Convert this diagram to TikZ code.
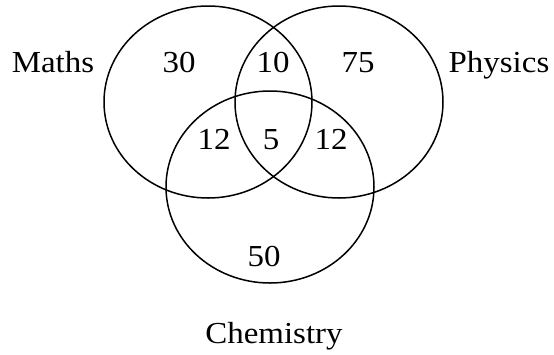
\documentclass[tikz,border=0pt]{standalone}
\usepackage{fontspec}
\setmainfont{Liberation Serif}[FakeStretch=1.08]
\usetikzlibrary{positioning,shapes.geometric}

\begin{document}
\begin{tikzpicture}[
    x=1pt, y=-1pt,
    font=\fontsize{30.5}{36}\selectfont,
    set/.style={draw, ellipse, line width=1.5pt, minimum width=208pt,
                minimum height=192pt, inner sep=0pt},
    num/.style={anchor=base, inner sep=0pt},
    lbl/.style={anchor=base, inner sep=0pt}
]
\useasboundingbox (0,0) rectangle (554,354);

% the three sets
\node[set] (maths) at (208,102) {};
\node[set] (physics) at (339,102) {};
\node[set] (chem) at (270,187) {};

% set names
\node[lbl] (mathsname) at (53,72) {Maths};
\node[lbl] (physicsname) at (499,72) {Physics};
\node[lbl] (chemname) at (274,343) {Chemistry};

% counts
\node[num] (onlym) at (179,72) {30};
\node[num] (mp) at (273,72) {10};
\node[num] (onlyp) at (358,72) {75};
\node[num] (mc) at (214,149) {12};
\node[num] (mpc) at (271,149) {5};
\node[num] (pc) at (331,149) {12};
\node[num] (onlyc) at (264,266) {50};

\end{tikzpicture}
\end{document}
